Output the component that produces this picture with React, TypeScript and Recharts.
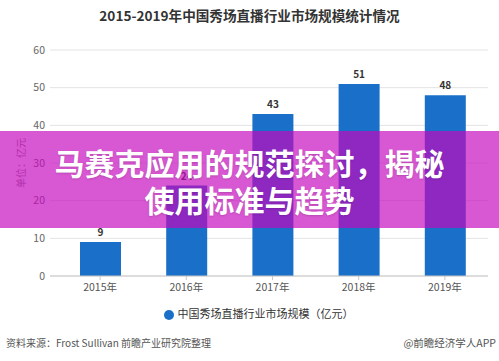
import React from "react";
import { Bar, BarChart, CartesianGrid, LabelList, Legend, XAxis, YAxis } from "recharts";

const years = ["2015年", "2016年", "2017年", "2018年", "2019年"];
const marketSize = [9, 24, 43, 51, 48];
const yTicks = [0, 10, 20, 30, 40, 50, 60];

const seriesName = "中国秀场直播行业市场规模（亿元）";
const font = '"Noto Sans CJK SC", "Noto Sans", sans-serif';

const data = years.map((name, i) => ({ name, value: marketSize[i] }));

export default function App() {
  return (
    <div
      style={{
        position: "absolute",
        left: 0,
        top: 0,
        width: 499,
        height: 361,
        background: "#fff",
        fontFamily: font,
        overflow: "hidden",
      }}
    >
      <div
        style={{
          position: "absolute",
          top: 6,
          width: 499,
          textAlign: "center",
          fontSize: 13.6,
          fontWeight: 700,
          color: "#333",
          lineHeight: "18px",
        }}
      >
        2015-2019年中国秀场直播行业市场规模统计情况
      </div>

      <BarChart
        width={499}
        height={361}
        data={data}
        margin={{ top: 50, right: 11, left: 0, bottom: 39 }}
        style={{ position: "absolute", left: 0, top: 0 }}
      >
        <CartesianGrid vertical={false} stroke="#e3e3e3" />
        <XAxis
          dataKey="name"
          padding={{ left: 7, right: 0 }}
          stroke="#c8c8c8"
          tickSize={4}
          tickMargin={4}
          tick={{ fill: "#555", fontSize: 10.5, fontFamily: font }}
        />
        <YAxis
          domain={[0, 60]}
          ticks={yTicks}
          width={50}
          axisLine={false}
          tickLine={false}
          tickSize={0}
          tickMargin={5}
          tick={{ fill: "#666", fontSize: 10.5, fontFamily: font }}
          label={{
            value: "单位：亿元",
            angle: -90,
            position: "insideLeft",
            dx: 16,
            dy: 0,
            style: { fill: "#888", fontSize: 10, fontFamily: font, textAnchor: "middle" },
          }}
        />
        <Legend
          verticalAlign="bottom"
          align="center"
          iconType="circle"
          iconSize={10}
          wrapperStyle={{ top: 305, left: 14, width: 499, fontSize: 11, fontFamily: font }}
          formatter={(v) => <span style={{ color: "#333" }}>{v}</span>}
        />
        <Bar
          dataKey="value"
          name={seriesName}
          fill="#1a6fc9"
          barSize={41}
          isAnimationActive={false}
        >
          <LabelList
            dataKey="value"
            position="top"
            offset={6}
            style={{ fill: "#333", fontSize: 10, fontWeight: 700, fontFamily: font }}
          />
        </Bar>
      </BarChart>

      <div
        style={{
          position: "absolute",
          left: 6,
          top: 336,
          fontSize: 10,
          color: "#555",
          lineHeight: "14px",
        }}
      >
        资料来源：Frost Sullivan 前瞻产业研究院整理
      </div>
      <div
        style={{
          position: "absolute",
          right: 3,
          top: 336,
          fontSize: 10.5,
          color: "#555",
          lineHeight: "14px",
        }}
      >
        @前瞻经济学人APP
      </div>

      <div
        style={{
          position: "absolute",
          left: 0,
          top: 131,
          width: 499,
          height: 97,
          background: "rgba(198, 8, 188, 0.68)",
          boxSizing: "border-box",
          paddingTop: 13,
          textAlign: "center",
          color: "#fff",
          fontSize: 30,
          fontWeight: 700,
          lineHeight: "37px",
          textShadow: "0 1px 2px rgba(0,0,0,0.15)",
        }}
      >
        <div>马赛克应用的规范探讨，揭秘</div>
        <div>使用标准与趋势</div>
      </div>
    </div>
  );
}
